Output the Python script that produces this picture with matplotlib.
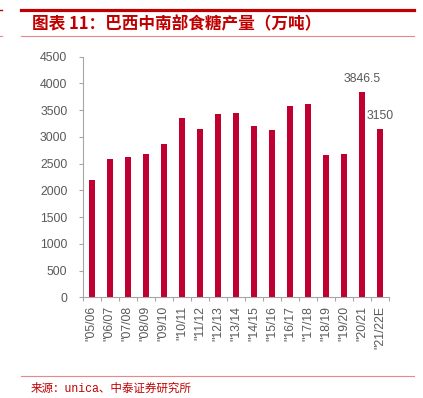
import matplotlib.pyplot as plt
import numpy as np
from matplotlib.lines import Line2D

# --- data ---
seasons = ['"05/06', '"06/07', '"07/08', '"08/09', '"09/10', '"10/11', '"11/12',
           '"12/13', '"13/14', '"14/15', '"15/16', '"16/17', '"17/18', '"18/19',
           '"19/20', '"20/21', '"21/22E']
output = [2200, 2581, 2618, 2675, 2867, 3354, 3140, 3423, 3441, 3210,
          3125, 3572, 3610, 2656, 2680, 3846.5, 3150]
labelled = {15: '3846.5', 16: '3150'}

# --- style ---
BAR_COLOR = '#C00030'
TEXT_GRAY = '#595959'
AXIS_GRAY = '#A6A6A6'
RED_DARK = '#C00000'
RED_LIGHT = '#E88888'
FS = 8.8

plt.rcParams['font.family'] = ['Liberation Sans', 'Noto Sans CJK SC', 'DejaVu Sans']

fig = plt.figure(figsize=(4.23, 3.98), dpi=100)
ax = fig.add_axes([0.1955, 0.2530, 0.9203 - 0.1955, 0.8575 - 0.2530])

x = np.arange(len(seasons))
ax.bar(x, output, width=0.34, color=BAR_COLOR, zorder=2)

for i, txt in labelled.items():
    ax.annotate(txt, (x[i], output[i]), xytext=(0, 5), textcoords='offset points',
                ha='center', va='bottom', fontsize=FS, color=TEXT_GRAY)

ax.set_xlim(-0.5, len(seasons) - 0.5)
ax.set_ylim(0, 4500)
ax.set_yticks(np.arange(0, 4501, 500))
ax.tick_params(axis='y', labelsize=FS, labelcolor=TEXT_GRAY, color=AXIS_GRAY,
               length=3, width=0.8, pad=8)

# category labels in the middle, tick marks between categories
ax.set_xticks(x)
ax.set_xticklabels(seasons, rotation=90, fontsize=FS, color=TEXT_GRAY)
ax.tick_params(axis='x', length=0, pad=6)
ax.set_xticks(np.arange(-0.5, len(seasons)), minor=True)
ax.tick_params(axis='x', which='minor', length=3, width=0.8, color=AXIS_GRAY)

for side in ['top', 'right']:
    ax.spines[side].set_visible(False)
for side in ['left', 'bottom']:
    ax.spines[side].set_color(AXIS_GRAY)
    ax.spines[side].set_linewidth(0.8)

# --- header / footer decoration ---
fig.add_artist(Line2D([21 / 423, 414 / 423], [1 - 9.8 / 398] * 2, color=RED_DARK, lw=2.3))
fig.add_artist(Line2D([21 / 423, 414 / 423], [1 - 36 / 398] * 2, color=RED_LIGHT, lw=0.8))
fig.add_artist(Line2D([21 / 423, 414 / 423], [1 - 376 / 398] * 2, color=RED_LIGHT, lw=0.8))
fig.add_artist(Line2D([0, 2 / 423], [1 - 10 / 398] * 2, color=RED_DARK, lw=1.0))
fig.add_artist(Line2D([0, 2 / 423], [1 - 36 / 398] * 2, color=RED_LIGHT, lw=0.8))

fig.text(32 / 423, 1 - 24 / 398, '图表 11：巴西中南部食糖产量（万吨）', ha='left', va='center',
         fontsize=12, fontweight='bold', style='italic', color=RED_DARK,
         family=['Noto Sans CJK SC', 'DejaVu Sans'])
fig.text(31 / 423, 1 - 389 / 398, '来源：unica、中泰证券研究所', ha='left', va='center',
         fontsize=8.3, color=RED_DARK, family=['Liberation Mono', 'Noto Sans CJK SC'])

fig.savefig('out.png', dpi=100)
